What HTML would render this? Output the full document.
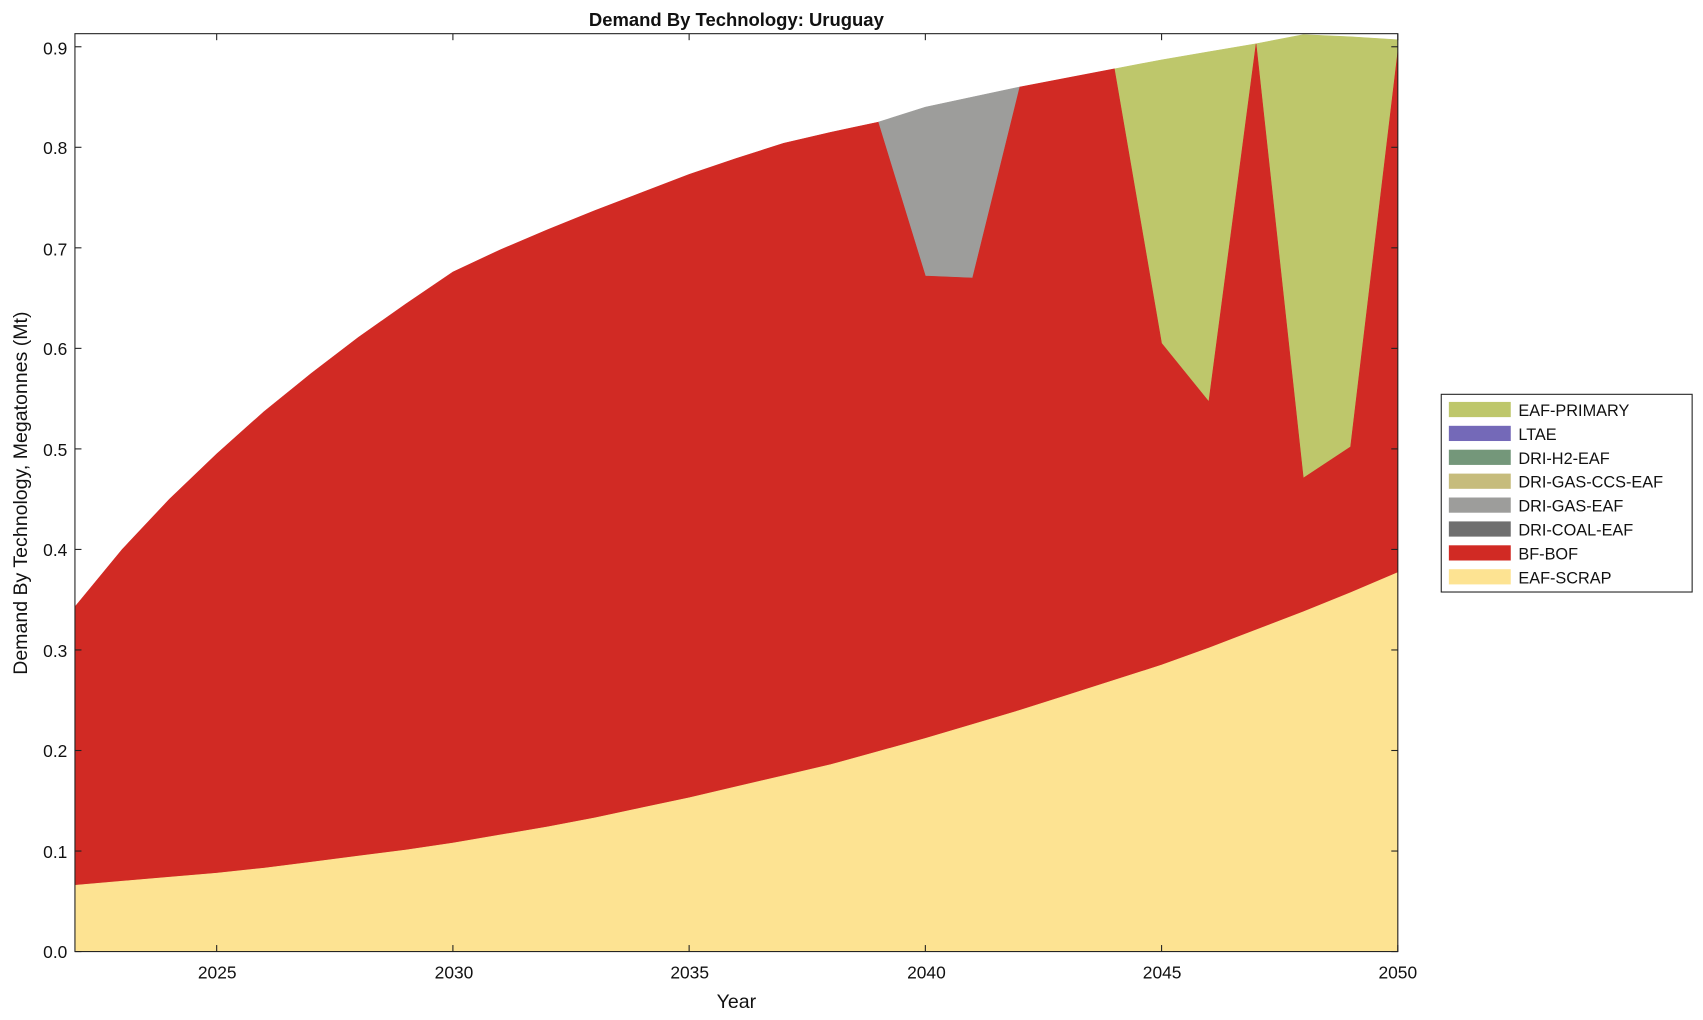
<!DOCTYPE html>
<html><head><meta charset="utf-8"><style>
html,body{margin:0;padding:0;background:#fff;}
svg{display:block;}
text{font-family:"Liberation Sans",Arial,sans-serif;fill:#111;}
</style></head><body>
<svg id="s" width="1703" height="1020" viewBox="0 0 1568 939" preserveAspectRatio="none" xmlns="http://www.w3.org/2000/svg">
<rect x="0" y="0" width="1568" height="939" fill="#fff"/>
<g id="areas"></g>
<g id="ticks" stroke="#222" stroke-width="1"></g>
<rect x="69" y="31" width="1218" height="845" fill="none" stroke="#222" stroke-width="1"/>
<text x="678" y="24" font-size="17" font-weight="bold" text-anchor="middle">Demand By Technology: Uruguay</text>
<g font-size="16" text-anchor="end">
<text x="62" y="882">0.0</text><text x="62" y="790">0.1</text><text x="62" y="697">0.2</text>
<text x="62" y="605">0.3</text><text x="62" y="512">0.4</text><text x="62" y="420">0.5</text>
<text x="62" y="327">0.6</text><text x="62" y="235">0.7</text><text x="62" y="142">0.8</text>
<text x="62" y="50">0.9</text>
</g>
<g font-size="16" text-anchor="middle">
<text x="200" y="901">2025</text><text x="418" y="901">2030</text><text x="635" y="901">2035</text>
<text x="853" y="901">2040</text><text x="1070" y="901">2045</text><text x="1287" y="901">2050</text>
</g>
<text x="678" y="928" font-size="18" text-anchor="middle">Year</text>
<text transform="translate(25,454) rotate(-90)" font-size="18" text-anchor="middle">Demand By Technology, Megatonnes (Mt)</text>
<rect x="1327" y="363" width="231" height="182" fill="#fff" stroke="#222" stroke-width="1"/>
<g font-size="15">
<rect x="1334" y="370" width="57" height="14" fill="#bec76b"/><text x="1398" y="383">EAF-PRIMARY</text>
<rect x="1334" y="392" width="57" height="14" fill="#7469b8"/><text x="1398" y="405">LTAE</text>
<rect x="1334" y="414" width="57" height="14" fill="#74977a"/><text x="1398" y="427">DRI-H2-EAF</text>
<rect x="1334" y="436" width="57" height="14" fill="#c6bc7c"/><text x="1398" y="449">DRI-GAS-CCS-EAF</text>
<rect x="1334" y="458" width="57" height="14" fill="#9d9d9b"/><text x="1398" y="471">DRI-GAS-EAF</text>
<rect x="1334" y="480" width="57" height="14" fill="#6f6f6f"/><text x="1398" y="493">DRI-COAL-EAF</text>
<rect x="1334" y="502" width="57" height="14" fill="#d12a24"/><text x="1398" y="515">BF-BOF</text>
<rect x="1334" y="524" width="57" height="14" fill="#fde392"/><text x="1398" y="537">EAF-SCRAP</text>
</g>
</svg>
<script>
(function(){
var X=function(y){return 69+(y-2022)*43.5;},Y=function(v){return 876-v*925.5;};
var scrap=[.066,.070,.074,.078,.083,.089,.095,.101,.108,.116,.124,.133,.143,.153,.164,.175,.186,.199,.212,.226,.240,.255,.270,.285,.302,.320,.338,.357,.377];
var total=[.343,.400,.450,.495,.537,.575,.611,.644,.676,.698,.718,.737,.755,.773,.789,.804,.815,.825,.840,.850,.860,.869,.878,.887,.895,.903,.912,.910,.907];
var bf=total.slice();
bf[18]=.672;bf[19]=.670;bf[23]=.605;bf[24]=.547;bf[26]=.471;bf[27]=.502;bf[28]=.895;
var g=document.getElementById('areas'),NS='http://www.w3.org/2000/svg';
function poly(top,bot,i0,i1,col){var p=[];for(var i=i0;i<=i1;i++)p.push(X(2022+i)+','+Y(top[i]));
for(var i=i1;i>=i0;i--)p.push(X(2022+i)+','+Y(bot?bot[i]:0));
var e=document.createElementNS(NS,'polygon');e.setAttribute('points',p.join(' '));e.setAttribute('fill',col);e.setAttribute('stroke',col);e.setAttribute('stroke-width','0.5');g.appendChild(e);}
poly(total,null,17,20,'#9d9d9b');
poly(total,null,22,28,'#bec76b');
poly(bf,null,0,28,'#d12a24');
poly(scrap,null,0,28,'#fde392');
var t=document.getElementById('ticks');
function ln(a,b,c,d){var e=document.createElementNS(NS,'line');e.setAttribute('x1',a);e.setAttribute('y1',b);e.setAttribute('x2',c);e.setAttribute('y2',d);t.appendChild(e);}
for(var k=0;k<=9;k++){var y=Y(k/10);ln(69,y,75,y);ln(1281,y,1287,y);}
for(var yr=2025;yr<=2050;yr+=5){var x=X(yr);ln(x,876,x,870);ln(x,31,x,37);}
})();
</script>
</body></html>
